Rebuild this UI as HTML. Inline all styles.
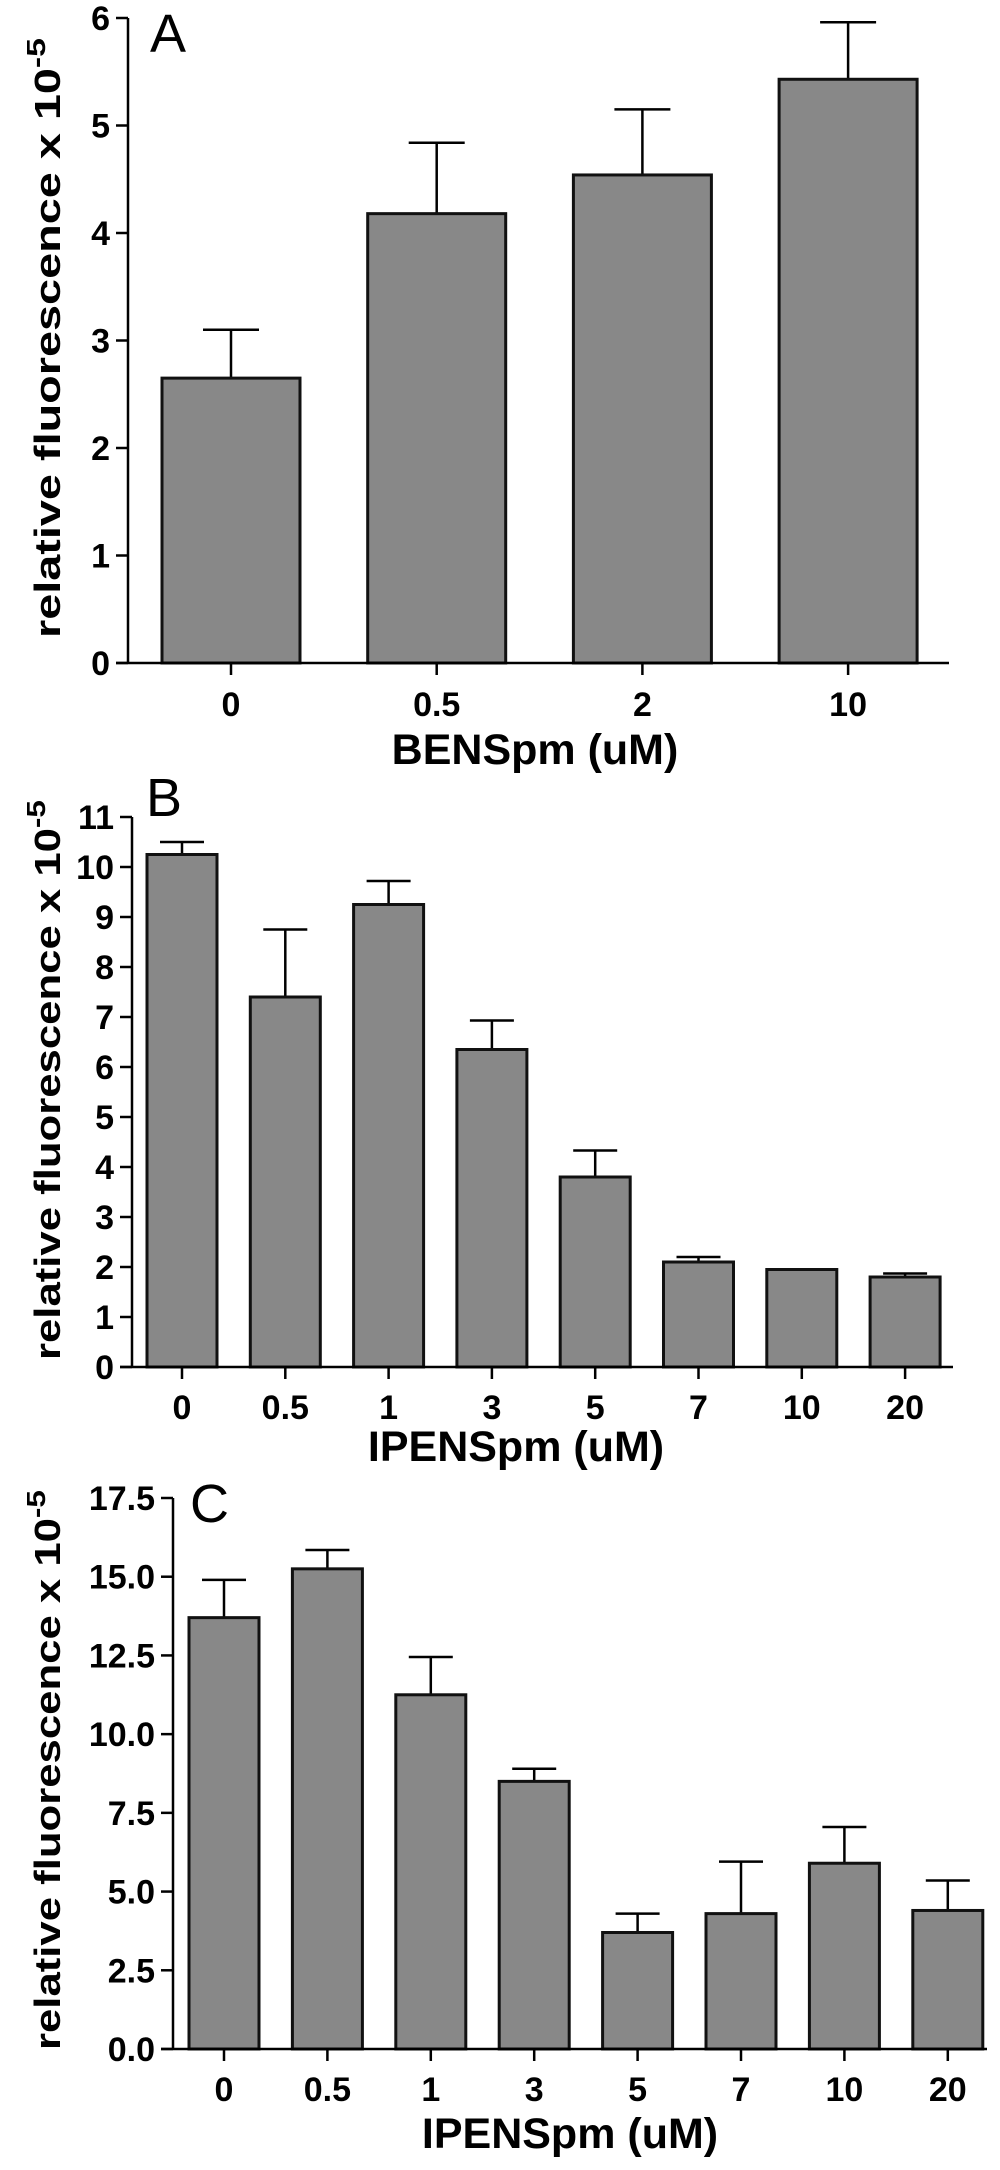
<!DOCTYPE html>
<html><head><meta charset="utf-8"><style>
html,body{margin:0;padding:0;background:#fff;}
svg text{font-family:"Liberation Sans",Arial,sans-serif;}
</style></head><body>
<svg id="fig" width="1000" height="2165" viewBox="0 0 1000 2165"></svg>
<script>
const catsA = ["0","0.5","2","10"];
const valsA = [2.65,4.18,4.54,5.43];
const errA = [3.1,4.84,5.15,5.96];
const ticksA = [0,1,2,3,4,5,6];
const tickLabelsA = ["0","1","2","3","4","5","6"];

const catsB = ["0","0.5","1","3","5","7","10","20"];
const valsB = [10.25,7.4,9.25,6.35,3.8,2.1,1.95,1.8];
const errB = [10.5,8.75,9.72,6.93,4.33,2.2,1.95,1.87];
const ticksB = [0,1,2,3,4,5,6,7,8,9,10,11];
const tickLabelsB = ["0","1","2","3","4","5","6","7","8","9","10","11"];

const catsC = ["0","0.5","1","3","5","7","10","20"];
const valsC = [13.7,15.25,11.25,8.5,3.7,4.3,5.9,4.4];
const errC = [14.9,15.85,12.45,8.9,4.3,5.95,7.05,5.35];
const ticksC = [0,2.5,5,7.5,10,12.5,15,17.5];
const tickLabelsC = ["0.0","2.5","5.0","7.5","10.0","12.5","15.0","17.5"];

const NS="http://www.w3.org/2000/svg";
const svg=document.getElementById('fig');
function mk(tag,attrs,parent,text){const e=document.createElementNS(NS,tag);for(const k in attrs)e.setAttribute(k,attrs[k]);if(text!==undefined)e.textContent=text;(parent||svg).appendChild(e);return e;}

function panel(p){
  const g=mk('g',{});
  
  
  const y=v=>p.y0-(v/p.ymax)*(p.y0-p.ytop);
  const x=i=>p.bx0+i*p.step;
  p.vals.forEach((v,i)=>{
    const cx=x(i)+p.bw/2;
    const eb=mk('line',{x1:cx,x2:cx,y1:y(v),y2:y(p.err[i]),stroke:'#000','stroke-width':2.5},g);
    
    
    const cap=mk('line',{x1:cx-p.cap,x2:cx+p.cap,y1:y(p.err[i]),y2:y(p.err[i]),stroke:'#000','stroke-width':2.5},g);
    
    
    const r=mk('rect',{x:x(i),y:y(v),width:p.bw,height:p.y0-y(v),fill:'#888888',stroke:'#111','stroke-width':3},g);
    
    
    const t=mk('line',{x1:cx,x2:cx,y1:p.y0,y2:p.y0+12,stroke:'#000','stroke-width':2.5},g);
    
    
    const l=mk('text',{x:cx,y:p.tickY,'text-anchor':'middle','font-size':p.tfs,'font-weight':'bold'},g,p.cats[i]);
    
    
  });
  const ya=mk('line',{x1:p.ax,x2:p.ax,y1:p.ytop,y2:p.y0,stroke:'#000','stroke-width':2.5},g);
  
  
  const xa=mk('line',{x1:p.ax-12,x2:p.xend,y1:p.y0,y2:p.y0,stroke:'#000','stroke-width':2.5},g);
  
  
  p.ticks.forEach((v,i)=>{
    const t=mk('line',{x1:p.ax-12,x2:p.ax,y1:y(v),y2:y(v),stroke:'#000','stroke-width':2.5},g);
    
    
    const l=mk('text',{x:p.ax-18,y:y(v)+12,'text-anchor':'end','font-size':p.tfs,'font-weight':'bold'},g,p.tickLabels[i]);
    
    
  });
  const xl=mk('text',{x:p.xlx,y:p.xly,'text-anchor':'middle','font-size':43,'font-weight':'bold'},g,p.xlabel);
  
  
  const yl=mk('text',{transform:`translate(60,${p.ylc}) rotate(-90)`,'text-anchor':'middle','font-size':36,'font-weight':'bold',textLength:p.ylen,lengthAdjust:'spacingAndGlyphs'},g);
  
  
  yl.appendChild(document.createTextNode('relative fluorescence x 10'));
  mk('tspan',{dy:-15,'font-size':26},yl,'-5');
  const pl=mk('text',{x:p.lx,y:p.ly,'font-size':54},g,p.letter);
  
  
}
panel({letter:'A',cats:catsA,vals:valsA,err:errA,ticks:ticksA,tickLabels:tickLabelsA,ymax:6,y0:663,ytop:18,ax:128,xend:949,bx0:162,step:205.7,bw:138,cap:28,tickY:716,tfs:34,xlabel:'BENSpm (uM)',xlx:535,xly:764,ylc:338,ylen:600,lx:150,ly:52});
panel({letter:'B',cats:catsB,vals:valsB,err:errB,ticks:ticksB,tickLabels:tickLabelsB,ymax:11,y0:1367,ytop:817,ax:132,xend:953,bx0:147,step:103.3,bw:70,cap:22,tickY:1419,tfs:34,xlabel:'IPENSpm (uM)',xlx:516,xly:1461,ylc:1080,ylen:560,lx:146,ly:816});
panel({letter:'C',cats:catsC,vals:valsC,err:errC,ticks:ticksC,tickLabels:tickLabelsC,ymax:17.5,y0:2049,ytop:1498,ax:173,xend:987,bx0:189,step:103.4,bw:70,cap:22,tickY:2101,tfs:34,xlabel:'IPENSpm (uM)',xlx:570,xly:2148,ylc:1770,ylen:560,lx:190,ly:1522});
</script>
</body></html>
